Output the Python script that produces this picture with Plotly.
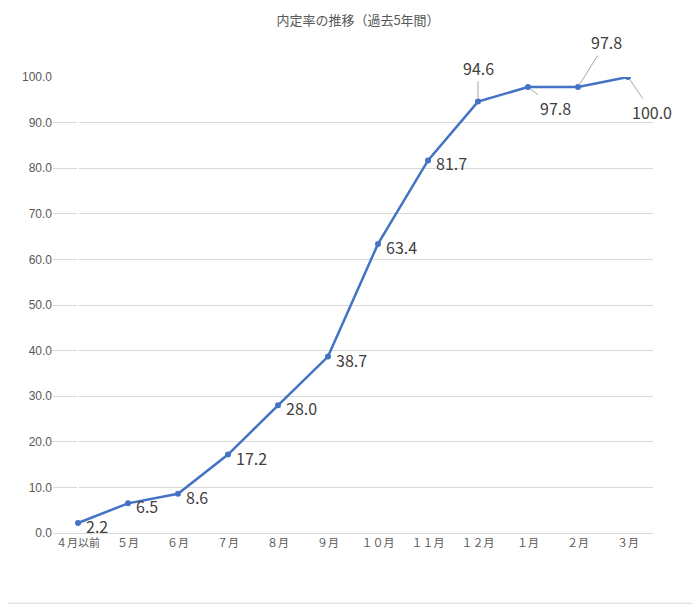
import plotly.graph_objects as go

categories = ["４月以前", "５月", "６月", "７月", "８月", "９月", "１０月", "１１月", "１２月", "１月", "２月", "３月"]
values = [2.2, 6.5, 8.6, 17.2, 28.0, 38.7, 63.4, 81.7, 94.6, 97.8, 97.8, 100.0]
# label offsets (pixels) for leader-lined labels
leader = {8: (0, -34), 9: (27, 21), 10: (28, -45), 11: (24, 35)}

fig = go.Figure(go.Scatter(
    x=list(range(len(categories))), y=values, mode="lines+markers",
    line=dict(color="#4472C4", width=2.5), marker=dict(size=6, color="#4472C4"),
    hoverinfo="skip"))

anns = []
for i, v in enumerate(values):
    txt = f"{v:.1f}"
    if i in leader:
        ax, ay = leader[i]
        anns.append(dict(x=i, y=v, text=txt, showarrow=True, arrowhead=0, arrowwidth=1,
                         arrowcolor="#A6A6A6", ax=ax, ay=ay, standoff=3,
                         font=dict(size=16, color="#404040")))
    else:
        anns.append(dict(x=i, y=v, text=txt, showarrow=False, xanchor="left",
                         xshift=6, yshift=-3, font=dict(size=16, color="#404040")))

fig.update_layout(
    width=700, height=604, paper_bgcolor="white", plot_bgcolor="white",
    margin=dict(l=45, r=55, t=69, b=79),
    title=dict(text="内定率の推移（過去5年間）", x=0.5, y=0.98, xanchor="center", yanchor="middle",
               font=dict(size=13, color="#595959", family="Noto Sans CJK JP")),
    font=dict(family="Noto Sans CJK JP"),
    showlegend=False, annotations=anns,
    xaxis=dict(tickmode="array", tickvals=list(range(len(categories))), ticktext=categories,
               range=[-0.5, len(categories) - 0.5], showgrid=False, showline=True,
               linecolor="#D9D9D9", tickfont=dict(size=11, color="#595959")),
    yaxis=dict(range=[0, 100], dtick=10, tickformat=".1f", showgrid=True, gridcolor="#D9D9D9",
               zeroline=False, showline=False, ticklen=0,
               tickfont=dict(size=12, color="#595959", family="Liberation Sans")),
    shapes=[dict(type="rect", xref="paper", yref="paper", x0=-0.0867, x1=1.077, y0=-0.154, y1=1.167,
                 line=dict(color="#D9D9D9", width=1))],
)
fig.write_html("out.html")
